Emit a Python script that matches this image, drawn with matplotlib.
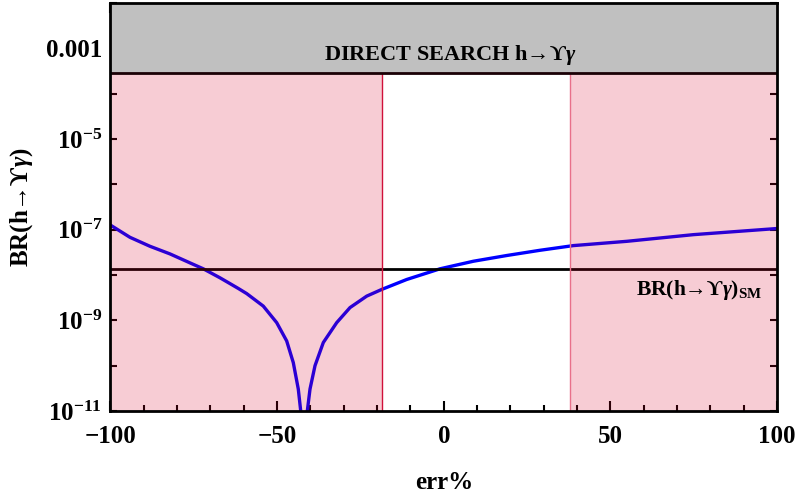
import matplotlib
matplotlib.use("Agg")
import matplotlib.pyplot as plt
from matplotlib.ticker import FixedLocator, FuncFormatter, MultipleLocator

plt.rcParams['font.family'] = ['Liberation Serif', 'STIXGeneral', 'DejaVu Serif']
plt.rcParams['font.weight'] = 'bold'
plt.rcParams['mathtext.fontset'] = 'custom'
plt.rcParams['mathtext.rm'] = 'Liberation Serif:bold'
plt.rcParams['mathtext.it'] = 'Liberation Serif:bold:italic'
plt.rcParams['mathtext.bf'] = 'Liberation Serif:bold'

# Data
err_pct = [-100, -94.15, -88.15, -82.15, -76.14, -72.15, -67.14, -64.14, -61.65, -59.13,
           -54.15, -50.13, -47.13, -45.15, -43.65, -42.93, -41.9, -40.94, -40.13, -38.63,
           -36.14, -32.12, -28.13, -23.12, -18.62, -11.12, -1.12, 8.87, 18.89, 28.88,
           38.87, 54.9, 74.9, 100]
br_values = [1.26e-7, 6.78e-8, 4.30e-8, 2.92e-8, 1.85e-8, 1.37e-8, 8.67e-9, 6.46e-9, 5.05e-9, 3.89e-9,
             2.06e-9, 8.9e-10, 3.51e-10, 1.17e-10, 3.05e-11, 1.02e-11, 1.0e-13, 1.0e-11, 3.05e-11, 1.0e-10,
             3.24e-10, 8.9e-10, 1.91e-9, 3.42e-9, 4.8e-9, 7.96e-9, 1.37e-8, 2.01e-8, 2.69e-8, 3.51e-8,
             4.45e-8, 5.53e-8, 7.76e-8, 1.06e-7]
br_sm = 1.37e-8
direct_search_limit = 2.8e-4
allowed_low, allowed_high = -18.6, 38.0
x_limits = (-100, 100)
y_limits = (1e-11, 1e-2)
y_tick_values = [1e-11, 1e-9, 1e-7, 1e-5, 1e-3]
y_tick_labels = [r'$10^{-11}$', r'$10^{-9}$', r'$10^{-7}$', r'$10^{-5}$', '0.001']

fig = plt.figure(figsize=(7.97, 4.98), dpi=100)
ax = fig.add_axes([0.1386, 0.1747, 0.975 - 0.1386, 0.994 - 0.1747])
ax.set_yscale('log')
ax.set_xlim(*x_limits)
ax.set_ylim(*y_limits)

# curve
ax.plot(err_pct, br_values, color='#0000ff', lw=2.4, zorder=2, solid_joinstyle='round')
# SM line
ax.axhline(br_sm, color='black', lw=2, zorder=2)

# excluded regions (translucent overlay)
excl = (0.86, 0.0, 0.16)
ax.axvspan(x_limits[0], allowed_low, color=excl, alpha=0.2, lw=0, zorder=3)
ax.axvspan(allowed_high, x_limits[1], color=excl, alpha=0.2, lw=0, zorder=3)
ax.axvline(allowed_low, color='#d0103a', lw=1.0, zorder=3)
ax.axvline(allowed_high, color='#e8708a', lw=1.0, zorder=3)

# direct search band
ax.fill_between(x_limits, direct_search_limit, y_limits[1], color='#c0c0c0', lw=0, zorder=4)
ax.axhline(direct_search_limit, color='#1a0005', lw=2, zorder=4)

ax.text(2, 10**-3.14, 'DIRECT SEARCH h\u2192\u03d2$\\gamma$', ha='center', va='center',
        fontsize=16, fontweight='bold', zorder=5)
ax.text(95.5, 10**-8.32, 'BR(h\u2192\u03d2$\\gamma$)$_{\\mathrm{SM}}$', ha='right', va='center',
        fontsize=15.5, fontweight='bold', zorder=5)

# ticks
ax.yaxis.set_major_locator(FixedLocator([10.0**k for k in range(-11, -1)]))
ax.yaxis.set_minor_locator(FixedLocator([]))
lab = dict(zip(y_tick_values, y_tick_labels))
def yfmt(v, pos):
    for k, s in lab.items():
        if abs(v / k - 1) < 1e-6:
            return s
    return ''
ax.yaxis.set_major_formatter(FuncFormatter(yfmt))
ax.xaxis.set_major_locator(MultipleLocator(50))
ax.xaxis.set_minor_locator(MultipleLocator(10))
ax.xaxis.set_major_formatter(FuncFormatter(lambda v, p: ('\u2212' if v < 0 else '') + f'{abs(int(v))}'))
ax.tick_params(axis='both', which='both', direction='in', top=True, right=True, width=1.5)
ax.tick_params(axis='x', which='major', length=7, labelsize=18, pad=10)
ax.tick_params(axis='x', which='minor', length=4)
ax.tick_params(axis='y', which='major', length=5, labelsize=18, pad=6)
for lbl in ax.get_xticklabels() + ax.get_yticklabels():
    lbl.set_fontweight('bold')
for s in ax.spines.values():
    s.set_linewidth(2)
    s.set_zorder(6)

ax.set_xlabel('err%', fontsize=18, fontweight='bold', labelpad=17)
ax.set_ylabel('BR(h\u2192\u03d2$\\gamma$)', fontsize=18, fontweight='bold', labelpad=8)

fig.savefig('out.png', dpi=100)
